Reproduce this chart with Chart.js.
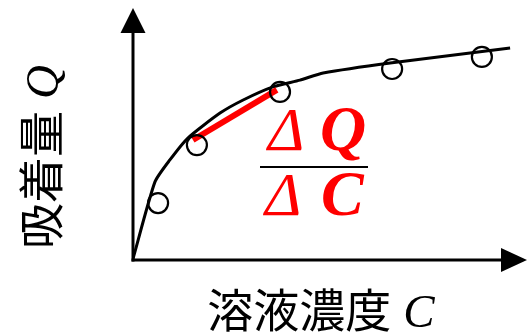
<!DOCTYPE html>
<html>
<head>
<meta charset="utf-8">
<script src="https://cdn.jsdelivr.net/npm/chart.js@4/dist/chart.umd.min.js"></script>
<style>
  body { margin: 0; background: #fff; }
</style>
</head>
<body>
<canvas id="isotherm" width="527" height="334"></canvas>
<script>
// measured points (concentration, adsorbed amount), arbitrary units 0..100
const concX = [6.4, 16.3, 37.5, 66.1, 89.0];
const adsorbY = [22.6, 45.6, 66.7, 75.8, 80.6];

// fitted curve
const curveX = [0, 5.6, 9.4, 14.0, 22.2, 28.1, 35.7, 42.6, 48.5, 65.6, 96.2];
const curveY = [0.5, 31.0, 39.7, 48.4, 58.3, 63.5, 68.7, 71.4, 74.2, 78.2, 84.1];

// red slope segment
const slopeX = [15.3, 36.7];
const slopeY = [47.6, 67.5];

const xLabel = '溶液濃度';
const xSymbol = 'C';
const yLabel = '吸着量';
const ySymbol = 'Q';

const toXY = (xs, ys) => xs.map((x, i) => ({ x: x, y: ys[i] }));

const axesPlugin = {
    id: 'axesPlugin',
    beforeDatasetsDraw(chart) {
        const ctx = chart.ctx;
        const a = chart.chartArea;
        const x0 = a.left, y0 = a.bottom;
        ctx.save();
        ctx.strokeStyle = '#000';
        ctx.fillStyle = '#000';
        ctx.lineWidth = 3;
        // y axis
        ctx.beginPath();
        ctx.moveTo(x0, y0 + 1.5);
        ctx.lineTo(x0, a.top + 25);
        ctx.stroke();
        ctx.beginPath();
        ctx.moveTo(x0, a.top);
        ctx.lineTo(x0 - 12.5, a.top + 25);
        ctx.lineTo(x0 + 12.5, a.top + 25);
        ctx.closePath();
        ctx.fill();
        // x axis
        ctx.beginPath();
        ctx.moveTo(x0 - 1.5, y0);
        ctx.lineTo(a.right - 24, y0);
        ctx.stroke();
        ctx.beginPath();
        ctx.moveTo(a.right + 2, y0);
        ctx.lineTo(a.right - 24, y0 - 12);
        ctx.lineTo(a.right - 24, y0 + 12);
        ctx.closePath();
        ctx.fill();
        ctx.restore();
    },
    afterDraw(chart) {
        const ctx = chart.ctx;
        ctx.save();
        ctx.fillStyle = '#000';
        ctx.textBaseline = 'alphabetic';

        // x label
        const cjk = '46px "Noto Sans CJK JP"';
        const sym = 'italic 47px "Liberation Serif"';
        ctx.font = cjk;
        const wx = ctx.measureText(xLabel).width;
        ctx.font = sym;
        const wc = ctx.measureText(xSymbol).width;
        let sx = 321 - (wx + 12 + wc) / 2;
        ctx.font = cjk;
        ctx.fillText(xLabel, sx, 327);
        ctx.font = sym;
        ctx.fillText(xSymbol, sx + wx + 12, 327);

        // y label, rotated
        ctx.save();
        ctx.translate(58, 157);
        ctx.rotate(-Math.PI / 2);
        ctx.font = cjk;
        const wy = ctx.measureText(yLabel).width;
        ctx.font = sym;
        const wq = ctx.measureText(ySymbol).width;
        sx = -(wy + 12 + wq) / 2;
        ctx.font = cjk;
        ctx.fillText(yLabel, sx, 0);
        ctx.font = sym;
        ctx.fillText(ySymbol, sx + wy + 12, 0);
        ctx.restore();

        // ΔQ / ΔC
        ctx.fillStyle = '#ff0000';
        ctx.font = 'italic 62px "Liberation Serif"';
        ctx.fillText('Δ', 268, 150);
        ctx.fillText('Δ', 265, 215);
        ctx.font = 'bold italic 64px "Liberation Serif"';
        ctx.fillText('Q', 320, 150);
        ctx.fillText('C', 321, 215);
        ctx.fillStyle = '#000';
        ctx.fillRect(260, 166, 108, 2);
        ctx.restore();
    }
};

new Chart(
    document.getElementById('isotherm'),
    {
        type: 'scatter',
        data: {
            datasets: [
                {
                    label: 'data',
                    data: toXY(concX, adsorbY),
                    pointRadius: 10,
                    pointBorderWidth: 2.2,
                    pointBorderColor: '#000',
                    pointBackgroundColor: 'rgba(0,0,0,0)',
                    showLine: false,
                    order: 0
                },
                {
                    label: 'slope',
                    data: toXY(slopeX, slopeY),
                    showLine: true,
                    borderColor: '#ff0000',
                    borderWidth: 6,
                    pointRadius: 0,
                    order: 1
                },
                {
                    label: 'curve',
                    data: toXY(curveX, curveY),
                    showLine: true,
                    borderColor: '#000',
                    borderWidth: 3,
                    tension: 0.2,
                    pointRadius: 0,
                    order: 2
                }
            ]
        },
        options: {
            responsive: false,
            animation: false,
            devicePixelRatio: 1,
            layout: {
                autoPadding: false,
                padding: { left: 133, right: 2, top: 8, bottom: 74 }
            },
            scales: {
                x: { type: 'linear', min: 0, max: 100, display: false },
                y: { type: 'linear', min: 0, max: 100, display: false }
            },
            plugins: {
                legend: { display: false },
                tooltip: { enabled: false }
            }
        },
        plugins: [axesPlugin]
    }
);
</script>
</body>
</html>
